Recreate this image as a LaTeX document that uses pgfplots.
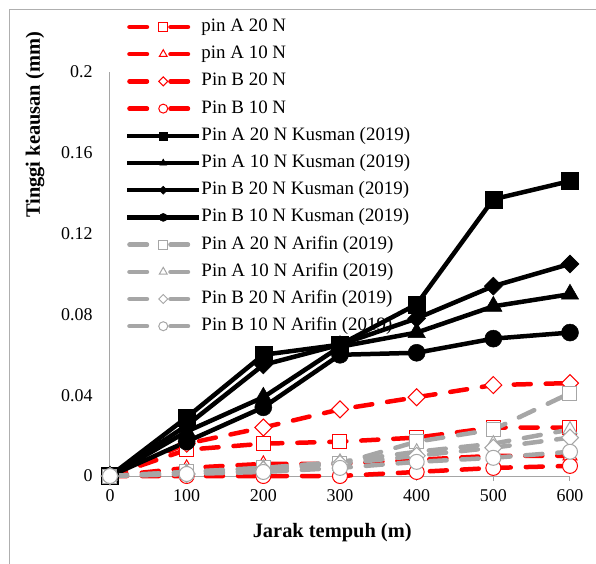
\documentclass[border=0pt]{standalone}
\usepackage{fontspec}
\setmainfont{Liberation Serif}
\usepackage{pgfplots}
\pgfplotsset{compat=1.18}
\definecolor{myred}{RGB}{255,0,0}
\definecolor{mygray}{RGB}{166,166,166}
\definecolor{axgray}{RGB}{165,165,165}
\definecolor{framegray}{RGB}{175,175,175}
\pgfdeclareplotmark{dmd}{%
  \pgfpathmoveto{\pgfqpoint{0pt}{\pgfplotmarksize}}%
  \pgfpathlineto{\pgfqpoint{\pgfplotmarksize}{0pt}}%
  \pgfpathlineto{\pgfqpoint{0pt}{-\pgfplotmarksize}}%
  \pgfpathlineto{\pgfqpoint{-\pgfplotmarksize}{0pt}}%
  \pgfpathclose
  \pgfusepathqfillstroke}
\pgfplotsset{
 dashleg/.style={legend image code/.code={%
   \draw[dash pattern=on 17.5bp off 23.5bp, line cap=round] (2.25bp,0bp) -- (62bp,0bp);
   \draw[solid, mark size=4.5bp] plot coordinates {(36bp,0bp)};}},
 solidleg/.style={legend image code/.code={%
   \draw[mark size=4bp, mark repeat=2, mark phase=2] plot coordinates {(0bp,0bp) (36bp,0bp) (72bp,0bp)};}},
 redp/.style={myred, line width=4.5bp, line cap=round, dash pattern=on 17bp off 15bp, mark options={solid, fill=white, draw=myred, line width=1bp}, dashleg},
 blkp/.style={black, line width=4.5bp, mark options={solid, fill=black, draw=black, line width=0.5bp}, solidleg},
 gryp/.style={mygray, line width=4.5bp, line cap=round, dash pattern=on 17bp off 15bp, mark options={solid, fill=white, draw=mygray, line width=1bp}, dashleg},
}
\begin{document}
\begin{tikzpicture}
\useasboundingbox (-110bp,-88bp) rectangle (486bp,476bp);
\draw[framegray, line width=1bp] (-100bp,-88bp) -- (-100bp,466bp) -- (486bp,466bp);
\begin{axis}[
 at={(0,0)}, anchor=south west,
 scale only axis, width=460bp, height=404bp,
 xmin=0, xmax=600, ymin=0, ymax=0.2,
 axis lines*=left,
 axis line style={axgray, line width=1bp},
 xtick={0,100,200,300,400,500,600},
 xticklabels={0,100,200,300,400,500,600},
 ytick={0,0.04,0.08,0.12,0.16,0.2},
 yticklabels={0,0.04,0.08,0.12,0.16,0.2},
 tick align=outside,
 major tick length=5bp,
 x tick style={axgray, line width=1bp},
 y tick style={draw=none},
 tick label style={font=\fontsize{18}{20}\selectfont},
 yticklabel style={xshift=-9bp},
 xticklabel style={yshift=-5bp},
 clip=false,
 xlabel={\bfseries Jarak tempuh (m)},
 ylabel={\bfseries Tinggi keausan (mm)},
 label style={font=\fontsize{20.5}{22}\selectfont},
 xlabel style={at={(axis description cs:0.483,-0.141)}, anchor=center},
 ylabel style={at={(axis description cs:-0.163,0.869)}, anchor=center},
 legend style={at={(rel axis cs:0.0326,1.145)}, anchor=north west, draw=none, fill=none, inner sep=0pt, outer sep=0pt,
   font=\fontsize{19}{21}\selectfont, row sep=0pt,
   nodes={inner sep=0pt, minimum height=27.2bp, text height=13bp, text depth=4bp, xshift=6bp}},
 legend cell align=left,
]
% red: this study
\addplot[redp, mark=square*, mark size=7bp] coordinates {(0,0) (100,0.013) (200,0.016) (300,0.017) (400,0.019) (500,0.024) (600,0.024)};
\addlegendentry{pin A 20 N}
\addplot[redp, mark=triangle*, mark size=8bp] coordinates {(0,0) (100,0.004) (200,0.006) (300,0.006) (400,0.008) (500,0.010) (600,0.010)};
\addlegendentry{pin A 10 N}
\addplot[redp, mark=dmd, mark size=8.5bp] coordinates {(0,0) (100,0.016) (200,0.024) (300,0.033) (400,0.039) (500,0.045) (600,0.046)};
\addlegendentry{Pin B 20 N}
\addplot[redp, mark=*, mark size=7.5bp] coordinates {(0,0) (100,0.000) (200,0.000) (300,0.000) (400,0.002) (500,0.004) (600,0.005)};
\addlegendentry{Pin B 10 N}
% black: Kusman
\addplot[blkp, mark=square*, mark size=8.5bp] coordinates {(0,0) (100,0.029) (200,0.060) (300,0.065) (400,0.085) (500,0.137) (600,0.146)};
\addlegendentry{Pin A 20 N Kusman (2019)}
\addplot[blkp, mark=triangle*, mark size=10bp] coordinates {(0,0) (100,0.022) (200,0.039) (300,0.064) (400,0.071) (500,0.084) (600,0.090)};
\addlegendentry{Pin A 10 N Kusman (2019)}
\addplot[blkp, mark=dmd, mark size=9bp] coordinates {(0,0) (100,0.025) (200,0.055) (300,0.065) (400,0.078) (500,0.094) (600,0.105)};
\addlegendentry{Pin B 20 N Kusman (2019)}
\addplot[blkp, mark=*, mark size=8.5bp] coordinates {(0,0) (100,0.017) (200,0.034) (300,0.060) (400,0.061) (500,0.068) (600,0.071)};
\addlegendentry{Pin B 10 N Kusman (2019)}
% gray: Arifin
\addplot[gryp, mark=square*, mark size=7bp] coordinates {(0,0) (100,0.002) (200,0.004) (300,0.006) (400,0.017) (500,0.023) (600,0.041)};
\addlegendentry{Pin A 20 N Arifin (2019)}
\addplot[gryp, mark=triangle*, mark size=8bp] coordinates {(0,0) (100,0.002) (200,0.004) (300,0.007) (400,0.012) (500,0.016) (600,0.023)};
\addlegendentry{Pin A 10 N Arifin (2019)}
\addplot[gryp, mark=dmd, mark size=8.5bp] coordinates {(0,0) (100,0.001) (200,0.003) (300,0.006) (400,0.010) (500,0.014) (600,0.019)};
\addlegendentry{Pin B 20 N Arifin (2019)}
\addplot[gryp, mark=*, mark size=7.5bp] coordinates {(0,0) (100,0.001) (200,0.002) (300,0.004) (400,0.007) (500,0.009) (600,0.012)};
\addlegendentry{Pin B 10 N Arifin (2019)}
\end{axis}
\end{tikzpicture}
\end{document}
